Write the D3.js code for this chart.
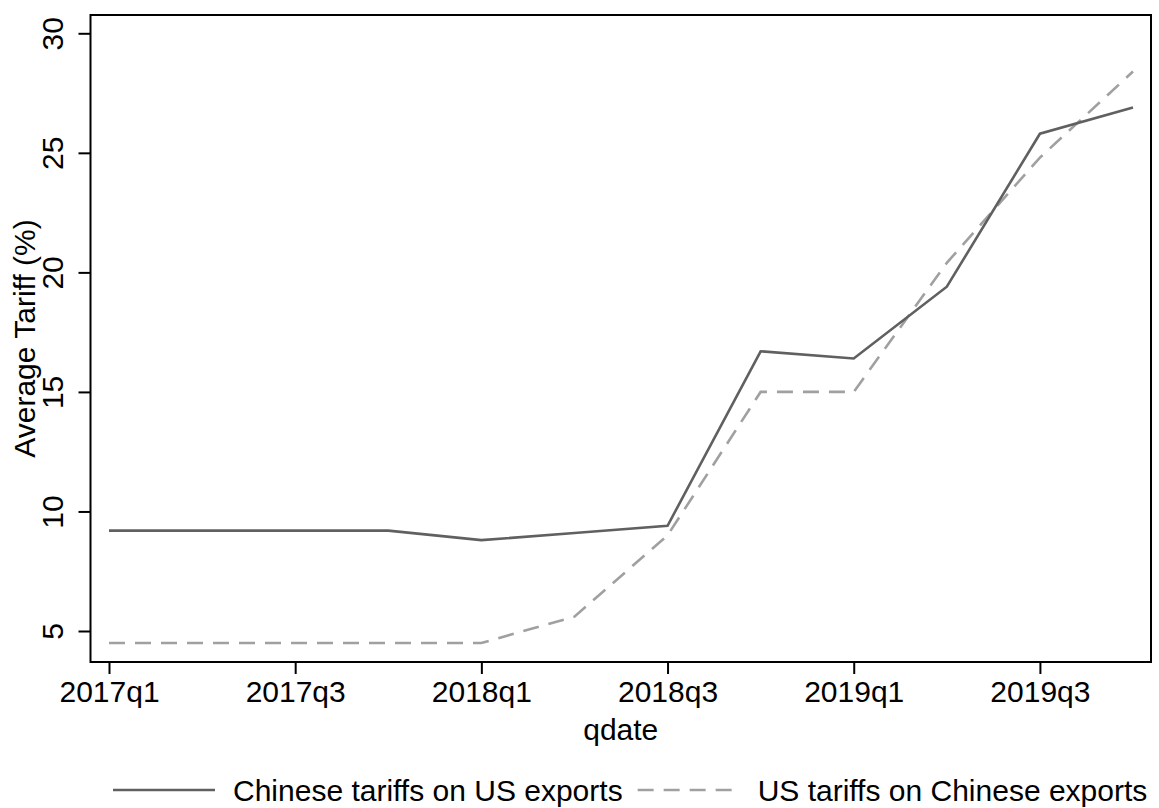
<!DOCTYPE html>
<html>
<head>
<meta charset="utf-8">
<script src="https://cdn.jsdelivr.net/npm/d3@7"></script>
<style>
  html, body { margin: 0; padding: 0; background: #fff; }
  svg { display: block; font-family: "Liberation Sans", Arial, Helvetica, sans-serif; }
</style>
</head>
<body>
<svg id="chart" width="1159" height="808"></svg>
<script>
// Quarterly average tariff rates (%)
const quarters = ["2017q1","2017q2","2017q3","2017q4","2018q1","2018q2",
                  "2018q3","2018q4","2019q1","2019q2","2019q3","2019q4"];
const chineseTariffs = [9.2, 9.2, 9.2, 9.2, 8.8, 9.1, 9.4, 16.7, 16.4, 19.4, 25.8, 26.9];
const usTariffs      = [4.5, 4.5, 4.5, 4.5, 4.5, 5.6, 9.0, 15.0, 15.0, 20.4, 24.8, 28.4];
const yTicks = [5, 10, 15, 20, 25, 30];
const xTickQuarters = ["2017q1","2017q3","2018q1","2018q3","2019q1","2019q3"];
const seriesNames = ["Chinese tariffs on US exports", "US tariffs on Chinese exports"];

const svg = d3.select("#chart");
const frame = { left: 90.5, right: 1151, top: 15, bottom: 662 };

const x = d3.scaleLinear().domain([0, quarters.length - 1]).range([109, 1133]);
const y = d3.scaleLinear().domain([5, 30]).range([631, 33.3]);

const FONT = 30;

// y axis
const yAxis = svg.append("g")
  .attr("transform", `translate(${frame.left},0)`)
  .call(d3.axisLeft(y).tickValues(yTicks).tickSize(12).tickSizeOuter(0));
yAxis.select(".domain").remove();
yAxis.selectAll(".tick line").attr("stroke", "#000").attr("stroke-width", 2);
yAxis.selectAll(".tick text")
  .attr("transform", "rotate(-90)")
  .attr("x", 0).attr("y", -28).attr("dy", 0)
  .attr("text-anchor", "middle")
  .attr("fill", "#000")
  .style("font-size", FONT + "px")
  .style("font-family", "inherit");

// x axis
const xAxis = svg.append("g")
  .attr("transform", `translate(0,${frame.bottom})`)
  .call(d3.axisBottom(x)
    .tickValues(xTickQuarters.map(q => quarters.indexOf(q)))
    .tickFormat(i => quarters[i])
    .tickSize(12).tickSizeOuter(0));
xAxis.select(".domain").remove();
xAxis.selectAll(".tick line").attr("stroke", "#000").attr("stroke-width", 2);
xAxis.selectAll(".tick text")
  .attr("y", 39.5).attr("dy", 0)
  .attr("fill", "#000")
  .style("font-size", FONT + "px")
  .style("font-family", "inherit");

// series lines
const line = d3.line().x((d, i) => x(i)).y(d => y(d));
svg.append("path")
  .datum(usTariffs)
  .attr("d", line)
  .attr("fill", "none")
  .attr("stroke", "#a0a0a0")
  .attr("stroke-width", 2.6)
  .attr("stroke-dasharray", "16,10");
svg.append("path")
  .datum(chineseTariffs)
  .attr("d", line)
  .attr("fill", "none")
  .attr("stroke", "#606060")
  .attr("stroke-width", 2.6);

// plot frame
svg.append("rect")
  .attr("x", frame.left).attr("y", frame.top)
  .attr("width", frame.right - frame.left)
  .attr("height", frame.bottom - frame.top)
  .attr("fill", "none").attr("stroke", "#000").attr("stroke-width", 2);

// axis titles
svg.append("text")
  .attr("transform", `translate(35,${(frame.top + frame.bottom) / 2}) rotate(-90)`)
  .attr("text-anchor", "middle")
  .style("font-size", FONT + "px")
  .text("Average Tariff (%)");
svg.append("text")
  .attr("x", (frame.left + frame.right) / 2).attr("y", 740)
  .attr("text-anchor", "middle")
  .style("font-size", FONT + "px")
  .text("qdate");

// legend
const legendY = 790;
const styles = [
  { stroke: "#606060", dash: null },
  { stroke: "#a0a0a0", dash: "16,10" }
];
let lx = 113;
seriesNames.forEach((name, i) => {
  svg.append("line")
    .attr("x1", lx).attr("x2", lx + 102)
    .attr("y1", legendY).attr("y2", legendY)
    .attr("stroke", styles[i].stroke)
    .attr("stroke-width", 2.6)
    .attr("stroke-dasharray", styles[i].dash);
  const t = svg.append("text")
    .attr("x", lx + 120).attr("y", legendY + 10.5)
    .style("font-size", FONT + "px")
    .text(name);
  lx = lx + 120 + t.node().getComputedTextLength() + 15;
});
</script>
</body>
</html>
